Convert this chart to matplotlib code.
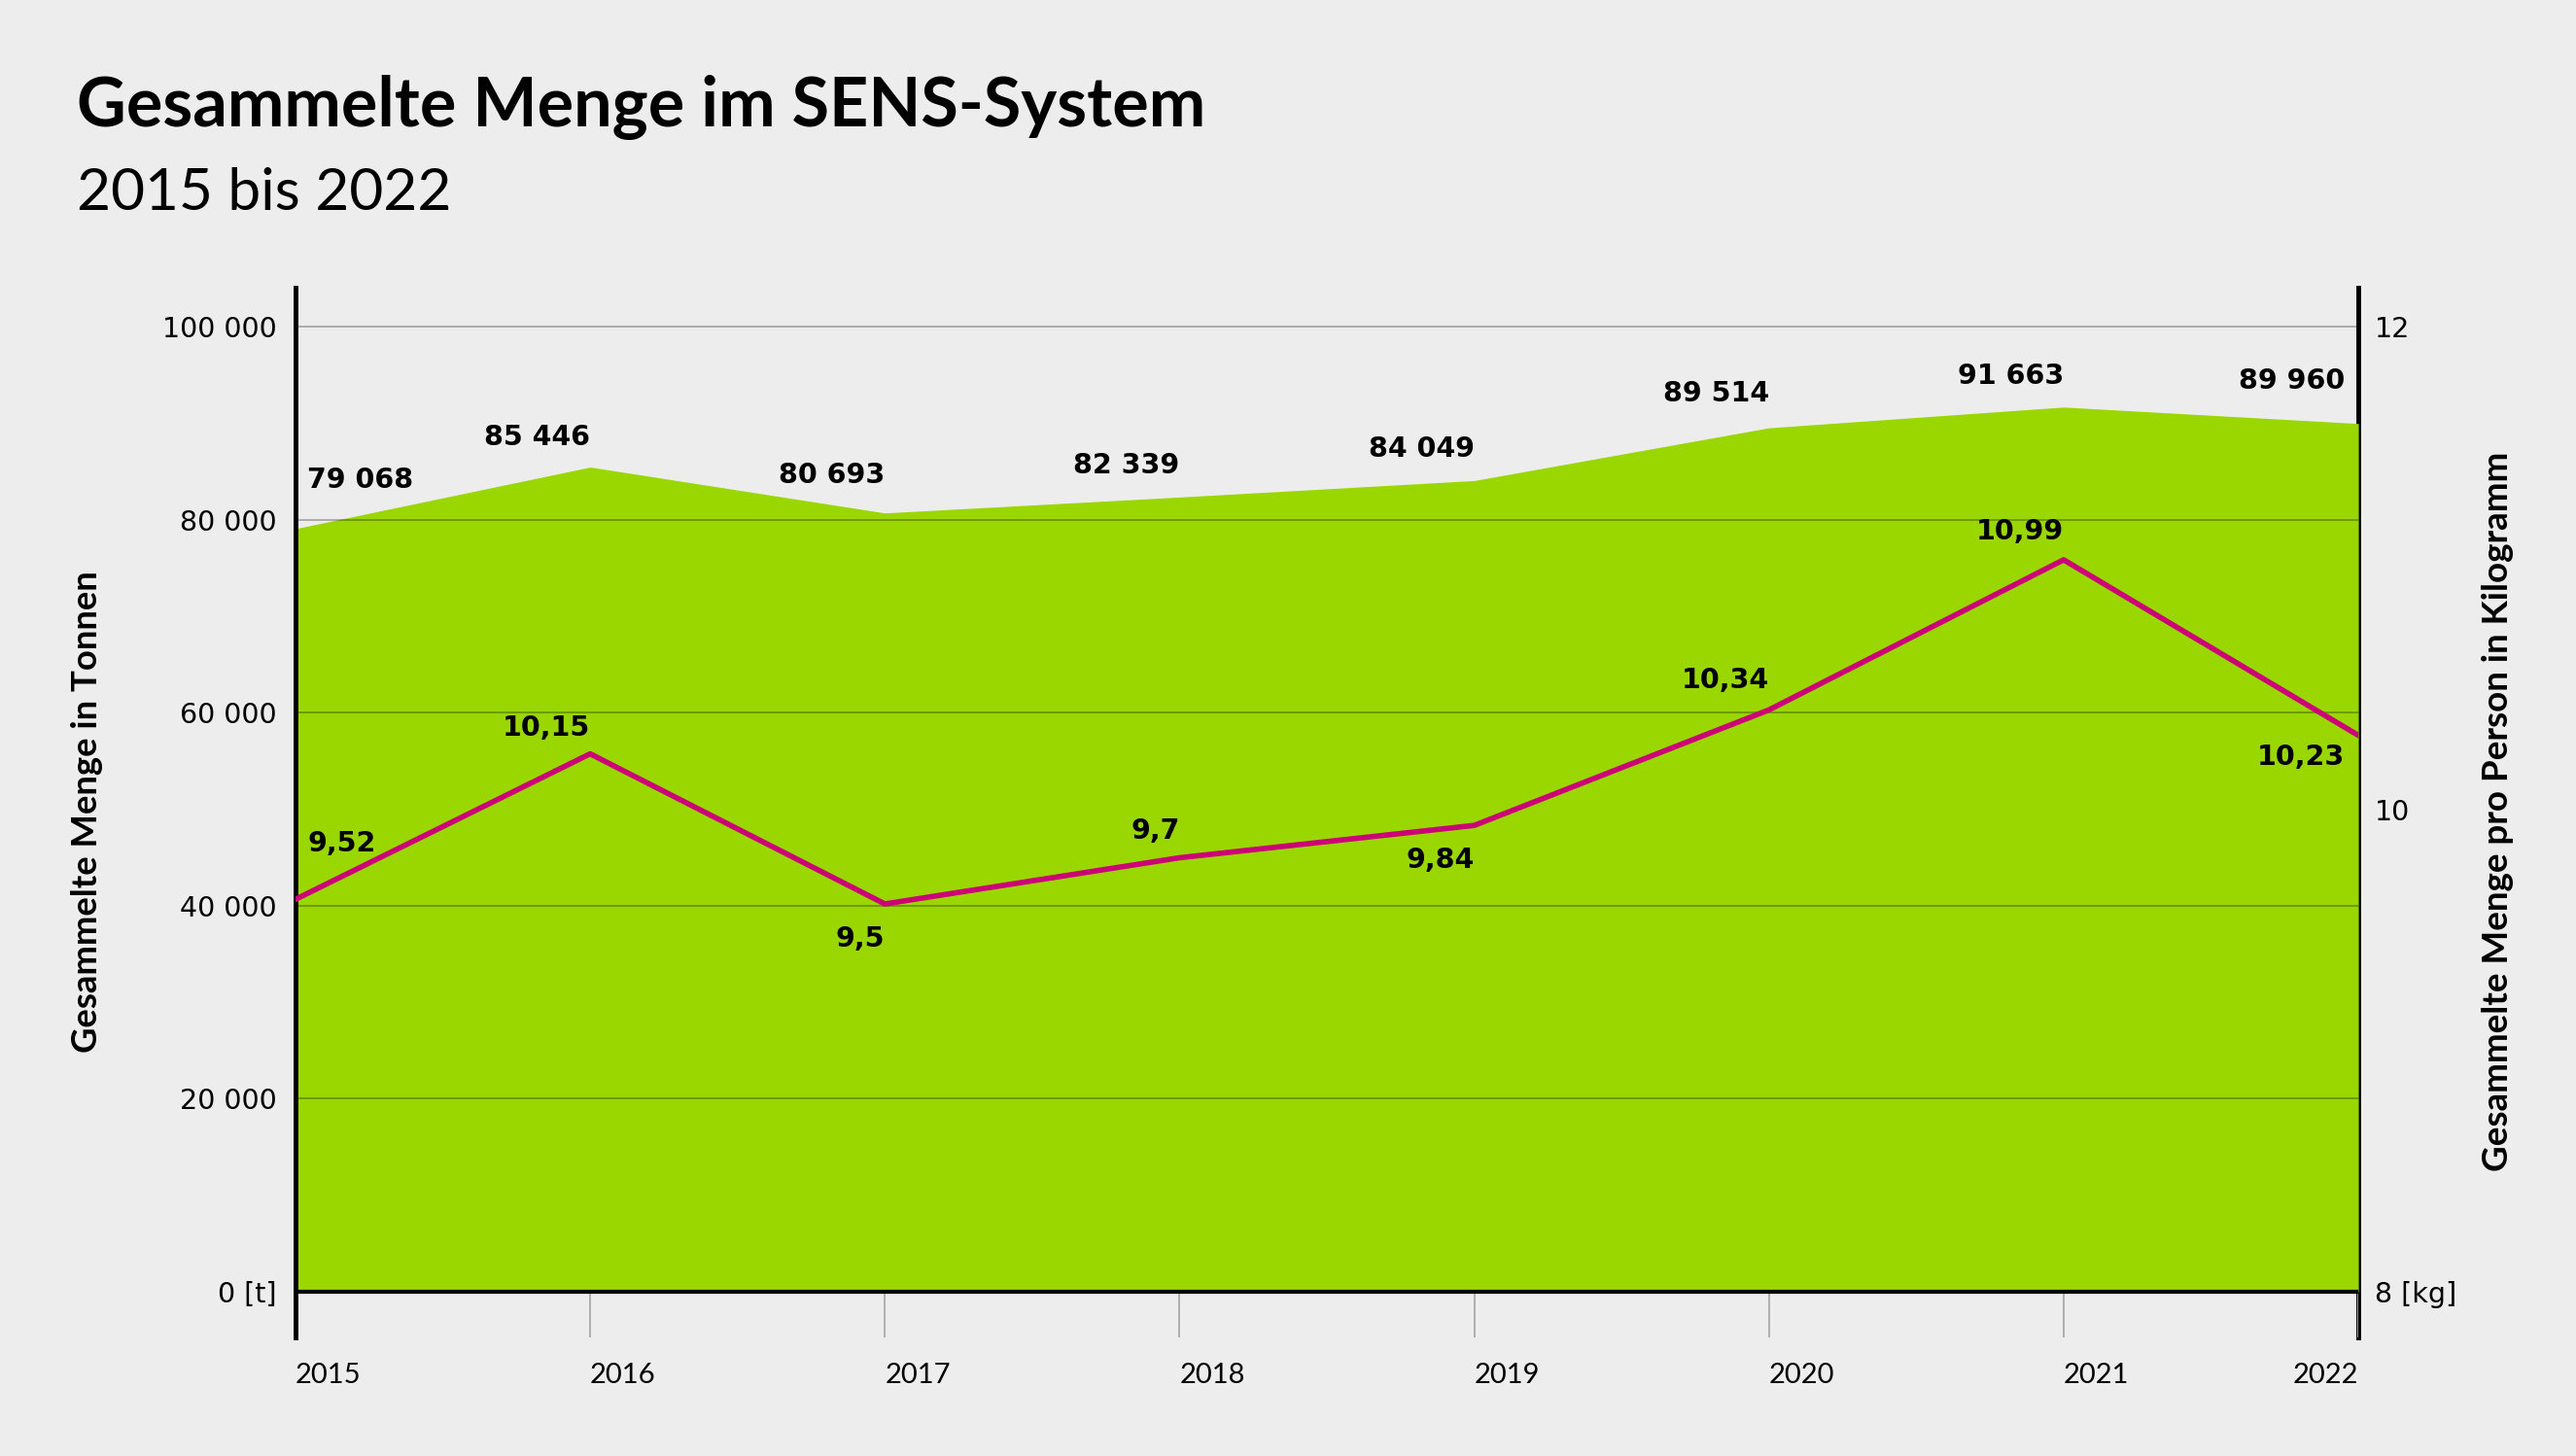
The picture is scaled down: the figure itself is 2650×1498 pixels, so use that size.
import matplotlib
matplotlib.use("Agg")
import matplotlib.pyplot as plt

# Daten aus der Grafik
years = [2015, 2016, 2017, 2018, 2019, 2020, 2021, 2022]
tonnen = [79068, 85446, 80693, 82339, 84049, 89514, 91663, 89960]
kg_pro_person = [9.52, 10.15, 9.5, 9.7, 9.84, 10.34, 10.99, 10.23]
tonnen_labels = ["79 068", "85 446", "80 693", "82 339", "84 049", "89 514", "91 663", "89 960"]
kg_labels = ["9,52", "10,15", "9,5", "9,7", "9,84", "10,34", "10,99", "10,23"]
left_ticks = [0, 20000, 40000, 60000, 80000, 100000]
left_tick_labels = ["0 [t]", "20 000", "40 000", "60 000", "80 000", "100 000"]
right_ticks = [8, 10, 12]
right_tick_labels = ["8 [kg]", "10", "12"]

BG = "#ededed"
GREEN = "#9ad600"
MAGENTA = "#cc0077"

plt.rcParams["font.family"] = ["Lato", "DejaVu Sans"]

fig = plt.figure(figsize=(26.5, 14.98), dpi=100, facecolor=BG)
ax = fig.add_axes([0.1147, 0.0814, 0.8008, 0.7210])
ax.set_facecolor(BG)
ax.set_xlim(2015, 2022)
ymin = -4733
ax.set_ylim(ymin, 104028)

# Flaeche
ax.fill_between(years, 0, tonnen, color=GREEN, lw=0, zorder=1)
for t in left_ticks[1:]:
    ax.axhline(t, color="black", alpha=0.3, lw=1.3, zorder=2)
ax.axhline(0, color="black", lw=3, zorder=4)
ax.vlines(years, ymin, 0, color="#aaaaaa", lw=1.3, zorder=1)

for side in ["top", "bottom", "right"]:
    ax.spines[side].set_visible(False)
ax.spines["left"].set_linewidth(3.5)

ax.set_yticks(left_ticks, left_tick_labels)
ax.tick_params(axis="y", length=0, pad=14)
for lab in ax.get_yticklabels():
    lab.set_family("DejaVu Sans")
    lab.set_fontsize(20.5)
ax.set_xticks(years, [str(y) for y in years])
ax.tick_params(axis="x", length=0, pad=19, labelsize=21)
for i, lab in enumerate(ax.get_xticklabels()):
    lab.set_horizontalalignment("right" if i == len(years) - 1 else "left")

# rechte Achse (kg)
sec = ax.secondary_yaxis("right", functions=(lambda t: 8 + t / 25000, lambda k: (k - 8) * 25000))
sec.set_yticks(right_ticks, right_tick_labels)
sec.tick_params(length=0, pad=12)
for lab in sec.get_yticklabels():
    lab.set_family("DejaVu Sans")
    lab.set_fontsize(20.5)
sec.spines["right"].set_linewidth(3.5)

# Linie
ax2 = ax.twinx()
ax2.set_ylim(7.623, 12.168)
ax2.plot(years, kg_pro_person, color=MAGENTA, lw=4, zorder=5)
ax2.set_yticks([])
for side in ax2.spines:
    ax2.spines[side].set_visible(False)

# Beschriftungen
t_off = [(12, 50, "left"), (0, 31, "right"), (0, 39, "right"), (0, 32, "right"),
         (0, 32, "right"), (0, 35, "right"), (0, 32, "right"), (-14, 44, "right")]
for x, y, lab, (dx, dy, ha) in zip(years, tonnen, tonnen_labels, t_off):
    ax.annotate(lab, (x, y), xytext=(dx, dy), textcoords="offset pixels",
                ha=ha, va="center", fontsize=20.5, fontweight="bold",
                family="DejaVu Sans", zorder=6)

k_off = [(13, 57, "left"), (0, 27, "right"), (0, -36, "right"), (0, 27, "right"),
         (0, -36, "right"), (0, 30, "right"), (0, 29, "right"), (-14, -22, "right")]
for x, y, lab, (dx, dy, ha) in zip(years, kg_pro_person, kg_labels, k_off):
    ax2.annotate(lab, (x, y), xytext=(dx, dy), textcoords="offset pixels",
                 ha=ha, va="center", fontsize=20.5, fontweight="bold",
                 family="DejaVu Sans", zorder=6)

fig.text(0.0298, 0.9132, "Gesammelte Menge im SENS-System", fontsize=50.5,
         fontweight="bold", va="baseline", ha="left")
fig.text(0.0298, 0.8558, "2015 bis 2022", fontsize=43.5, fontweight="normal",
         va="baseline", ha="left")
fig.text(90 / 2650, 0.4426, "Gesammelte Menge in Tonnen", rotation=90,
         fontsize=26.3, fontweight="bold", ha="center", va="center")
fig.text(2569 / 2650, 0.4426, "Gesammelte Menge pro Person in Kilogramm", rotation=90,
         fontsize=26.5, fontweight="bold", ha="center", va="center")

fig.savefig("out.png", dpi=100, facecolor=BG)
